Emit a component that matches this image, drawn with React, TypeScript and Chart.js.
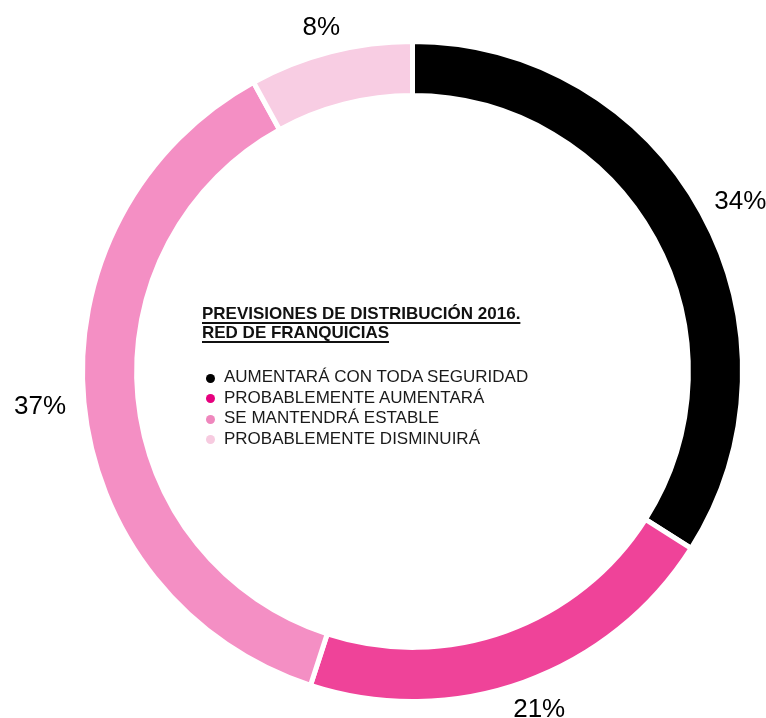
import React, { useEffect, useRef } from "react";
import { Chart, registerables } from "chart.js";

Chart.register(...registerables);

const categories = [
  "AUMENTARÁ CON TODA SEGURIDAD",
  "PROBABLEMENTE AUMENTARÁ",
  "SE MANTENDRÁ ESTABLE",
  "PROBABLEMENTE DISMINUIRÁ",
];
const values = [34, 21, 37, 8];
const sliceColors = ["#000000", "#ef4399", "#f48fc4", "#f8cde3"];
const legendColors = ["#000000", "#e6007e", "#ef87bd", "#f7cbe0"];
const titleLines = ["PREVISIONES DE DISTRIBUCIÓN 2016.", "RED DE FRANQUICIAS"];

const W = 766;
const H = 718;

const outerLabels = {
  id: "outerLabels",
  afterDatasetsDraw(chart: any) {
    const ctx = chart.ctx;
    const meta = chart.getDatasetMeta(0);
    const ds = chart.data.datasets[0];
    const fontSize = 26;
    ctx.save();
    ctx.font = `${fontSize}px "Liberation Sans", Arial, sans-serif`;
    ctx.fillStyle = "#000";
    ctx.textAlign = "center";
    ctx.textBaseline = "alphabetic";
    meta.data.forEach((arc: any, i: number) => {
      const p = arc.getProps(["x", "y", "startAngle", "endAngle", "outerRadius"], true);
      const mid = (p.startAngle + p.endAngle) / 2;
      const dx = Math.cos(mid);
      const dy = Math.sin(mid);
      const text = ds.data[i] + "%";
      const w = ctx.measureText(text).width;
      const h = fontSize * 0.716;
      const r = p.outerRadius + 18;
      const cx = p.x + dx * r + (dx * w) / 2;
      const cy = p.y + dy * r + (dy * h) / 2;
      ctx.fillText(text, cx, cy + h / 2);
    });
    ctx.restore();
  },
};

export default function App() {
  const canvasRef = useRef<HTMLCanvasElement | null>(null);

  useEffect(() => {
    if (!canvasRef.current) return;
    const chart = new Chart(canvasRef.current, {
      type: "doughnut",
      data: {
        labels: categories,
        datasets: [
          {
            data: values,
            backgroundColor: sliceColors,
            hoverBackgroundColor: sliceColors,
            borderColor: "#ffffff",
            hoverBorderColor: "#ffffff",
            borderWidth: 5,
          },
        ],
      },
      options: {
        responsive: false,
        maintainAspectRatio: false,
        animation: false,
        rotation: 0,
        cutout: "83.6%",
        layout: { padding: { left: 80, top: 39, right: 21, bottom: 14 } },
        plugins: {
          legend: { display: false },
          tooltip: { enabled: false },
        },
        events: [],
      },
      plugins: [outerLabels],
    });
    return () => chart.destroy();
  }, []);

  const font = '"Liberation Sans", Arial, sans-serif';

  return (
    <div
      style={{
        position: "fixed",
        left: 0,
        top: 0,
        width: W,
        height: H,
        background: "#fff",
        overflow: "hidden",
      }}
    >
      <canvas ref={canvasRef} width={W} height={H} style={{ display: "block", width: W, height: H }} />
      <div
        style={{
          position: "absolute",
          left: 202,
          top: 304,
          fontFamily: font,
          fontWeight: 700,
          fontSize: 17,
          lineHeight: "19px",
          color: "#111",
          whiteSpace: "nowrap",
        }}
      >
        {titleLines.map((t) => (
          <div
            key={t}
            style={{
              textDecoration: "underline",
              textDecorationThickness: "2px",
              textUnderlineOffset: "3px",
            }}
          >
            {t}
          </div>
        ))}
      </div>
      <div
        style={{
          position: "absolute",
          left: 224,
          top: 367,
          fontFamily: font,
          fontSize: 17,
          lineHeight: "20.5px",
          color: "#1a1a1a",
          whiteSpace: "nowrap",
        }}
      >
        {categories.map((c, i) => (
          <div key={c} style={{ position: "relative" }}>
            <span
              style={{
                position: "absolute",
                left: -18.5,
                top: 6.6,
                width: 9,
                height: 9,
                borderRadius: "50%",
                background: legendColors[i],
              }}
            />
            {c}
          </div>
        ))}
      </div>
    </div>
  );
}
